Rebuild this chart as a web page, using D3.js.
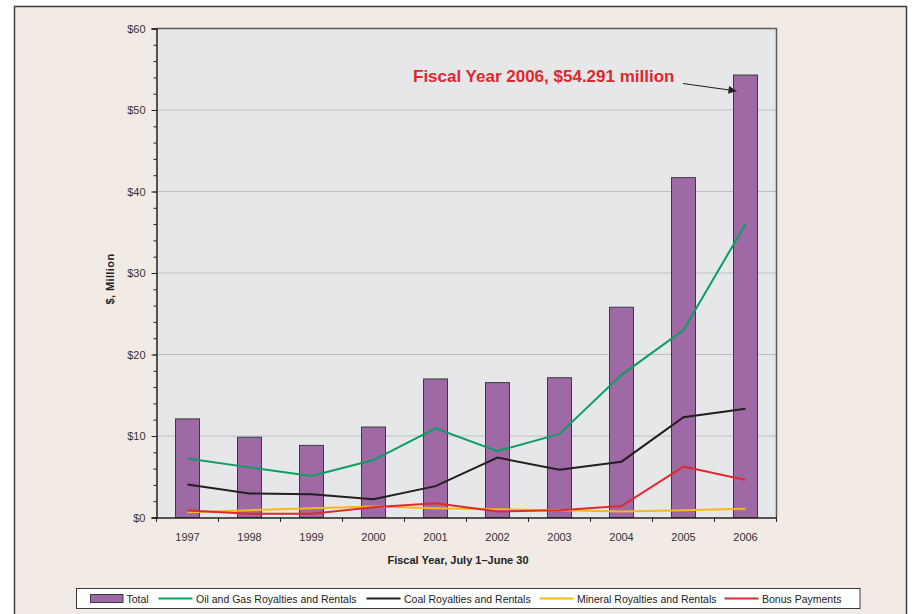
<!DOCTYPE html>
<html>
<head>
<meta charset="utf-8">
<script src="https://cdn.jsdelivr.net/npm/d3@7"></script>
<style>
  html, body { margin: 0; padding: 0; background: #ffffff; }
  svg { display: block; font-family: "Liberation Sans", Arial, sans-serif; }
</style>
</head>
<body>
<svg id="chart" width="912" height="614"></svg>
<script>
// Fiscal years and receipts ($ million)
const years = ["1997","1998","1999","2000","2001","2002","2003","2004","2005","2006"];
const total   = [12.1, 9.85, 8.85, 11.1, 17.0, 16.55, 17.15, 25.8, 41.7, 54.291];
const oilGas  = [7.25, 6.15, 5.1, 7.05, 10.95, 8.15, 10.25, 17.5, 23.0, 36.0];
const coal    = [4.05, 2.95, 2.85, 2.25, 3.85, 7.35, 5.85, 6.85, 12.3, 13.35];
const mineral = [0.65, 0.9, 1.15, 1.35, 1.15, 1.0, 0.9, 0.75, 0.9, 1.08];
const bonus   = [0.85, 0.45, 0.45, 1.25, 1.75, 0.75, 0.9, 1.4, 6.25, 4.6];
const yMajorTicks = [0, 10, 20, 30, 40, 50, 60];
const yMinorTicks = d3.range(0, 61, 2);

const series = [
  { name: "Oil and Gas Royalties and Rentals", values: oilGas,  color: "#0b9e62" },
  { name: "Coal Royalties and Rentals",        values: coal,    color: "#231f20" },
  { name: "Mineral Royalties and Rentals",     values: mineral, color: "#f8b81a" },
  { name: "Bonus Payments",                    values: bonus,   color: "#de2a2c" }
];

const svg = d3.select("#chart");
const plot = { left: 156.5, right: 776.5, top: 28.5, bottom: 517.5 };

// Outer panel
svg.append("rect").attr("x", 14.5).attr("y", 6.5).attr("width", 892).attr("height", 630)
  .attr("fill", "#f2ebe5").attr("stroke", "#3d3d3d").attr("stroke-width", 1.5);

const x = d3.scaleBand().domain(years).range([plot.left, plot.right]).padding(0);
const y = d3.scaleLinear().domain([0, 60]).range([plot.bottom, plot.top]);

// Plot area background
svg.append("rect").attr("x", plot.left).attr("y", plot.top)
  .attr("width", plot.right - plot.left).attr("height", plot.bottom - plot.top)
  .attr("fill", "#e6e7e9");

// Horizontal gridlines
svg.append("g").selectAll("line").data(yMajorTicks.filter(d => d > 0 && d < 60)).join("line")
  .attr("x1", plot.left).attr("x2", plot.right)
  .attr("y1", d => y(d)).attr("y2", d => y(d))
  .attr("stroke", "#bdbec0").attr("stroke-width", 1);

// Top and right frame of the plot area
svg.append("path")
  .attr("d", `M${plot.left},${plot.top}H${plot.right}V${plot.bottom}`)
  .attr("fill", "none").attr("stroke", "#5a5a5a").attr("stroke-width", 1.5);

// Bars: totals
const barW = 24;
svg.append("g").selectAll("rect").data(years).join("rect")
  .attr("x", d => x(d) + (x.bandwidth() - barW) / 2)
  .attr("y", (d, i) => y(total[i]))
  .attr("width", barW)
  .attr("height", (d, i) => y(0) - y(total[i]))
  .attr("fill", "#9e69a4").attr("stroke", "#3b3b3b").attr("stroke-width", 1);

// Component lines
const line = d3.line()
  .x((v, i) => x(years[i]) + x.bandwidth() / 2)
  .y(v => y(v));
svg.append("g").selectAll("path").data(series).join("path")
  .attr("d", s => line(s.values))
  .attr("fill", "none").attr("stroke", s => s.color).attr("stroke-width", 2)
  .attr("stroke-linejoin", "miter");

// Y axis: minor ticks, then major ticks with labels
const yMinor = svg.append("g").attr("transform", `translate(${plot.left},0)`)
  .call(d3.axisLeft(y).tickValues(yMinorTicks).tickSize(3).tickFormat(""));
yMinor.select(".domain").remove();
yMinor.selectAll("line").attr("stroke", "#222");

const yAxis = svg.append("g").attr("transform", `translate(${plot.left},0)`)
  .call(d3.axisLeft(y).tickValues(yMajorTicks).tickSize(5).tickPadding(6).tickFormat(d => "$" + d));
yAxis.select(".domain").attr("stroke", "#222").attr("stroke-width", 1.5);
yAxis.selectAll("line").attr("stroke", "#222");
yAxis.selectAll("text").attr("font-size", 11).attr("fill", "#333")
  .attr("font-family", "Liberation Sans, Arial, sans-serif");

// X axis: labels at category centres, ticks on category boundaries
const xAxis = svg.append("g").attr("transform", `translate(0,${plot.bottom})`)
  .call(d3.axisBottom(x).tickSize(0).tickPadding(16));
xAxis.select(".domain").attr("stroke", "#222").attr("stroke-width", 1.5);
xAxis.selectAll("text").attr("font-size", 11).attr("fill", "#333")
  .attr("font-family", "Liberation Sans, Arial, sans-serif");
const boundaries = years.map(d => x(d)).concat([plot.right]);
svg.append("g").selectAll("line").data(boundaries).join("line")
  .attr("x1", d => d).attr("x2", d => d)
  .attr("y1", plot.bottom).attr("y2", plot.bottom + 4.5)
  .attr("stroke", "#222").attr("stroke-width", 1);

// Axis titles
svg.append("text")
  .attr("transform", `translate(114,279) rotate(-90)`)
  .attr("text-anchor", "middle").attr("font-size", 11).attr("font-weight", "bold")
  .attr("fill", "#222").attr("letter-spacing", 0.4)
  .text("$, Million");
svg.append("text")
  .attr("x", 458).attr("y", 564).attr("text-anchor", "middle")
  .attr("font-size", 11).attr("font-weight", "bold").attr("fill", "#222")
  .text("Fiscal Year, July 1–June 30");

// Callout for the latest year
const lastIdx = years.length - 1;
svg.append("defs").append("marker")
  .attr("id", "arrowhead").attr("viewBox", "0 0 10 10")
  .attr("refX", 10).attr("refY", 5)
  .attr("markerWidth", 10).attr("markerHeight", 8)
  .attr("markerUnits", "userSpaceOnUse").attr("orient", "auto")
  .append("path").attr("d", "M0,0L10,5L0,10Z").attr("fill", "#231f20");
svg.append("text")
  .attr("x", 413).attr("y", 81.5)
  .attr("font-size", 17).attr("font-weight", "bold").attr("fill", "#e0282c")
  .text(`Fiscal Year ${years[lastIdx]}, $${total[lastIdx].toFixed(3)} million`);
svg.append("line")
  .attr("x1", 683).attr("y1", 83.5)
  .attr("x2", x(years[lastIdx]) + (x.bandwidth() - barW) / 2 + 3)
  .attr("y2", y(total[lastIdx]) + 16)
  .attr("stroke", "#231f20").attr("stroke-width", 1.2)
  .attr("marker-end", "url(#arrowhead)");

// Legend
const legend = svg.append("g");
legend.append("rect").attr("x", 76.5).attr("y", 588.5).attr("width", 783.5).attr("height", 20)
  .attr("fill", "#ffffff").attr("stroke", "#3b3b3b").attr("stroke-width", 1);
legend.append("rect").attr("x", 90.5).attr("y", 594.5).attr("width", 32.5).attr("height", 8)
  .attr("fill", "#9e69a4").attr("stroke", "#3b3b3b").attr("stroke-width", 1);
legend.append("text").attr("x", 126.5).attr("y", 603).attr("font-size", 10.5).attr("fill", "#222")
  .text("Total");
const legendX = [158.5, 366.5, 539.5, 724.5];
series.forEach((s, i) => {
  legend.append("line").attr("x1", legendX[i]).attr("x2", legendX[i] + 34)
    .attr("y1", 598.5).attr("y2", 598.5).attr("stroke", s.color).attr("stroke-width", 2);
  legend.append("text").attr("x", legendX[i] + 37.5).attr("y", 603)
    .attr("font-size", 10.5).attr("fill", "#222").text(s.name);
});
</script>
</body>
</html>
